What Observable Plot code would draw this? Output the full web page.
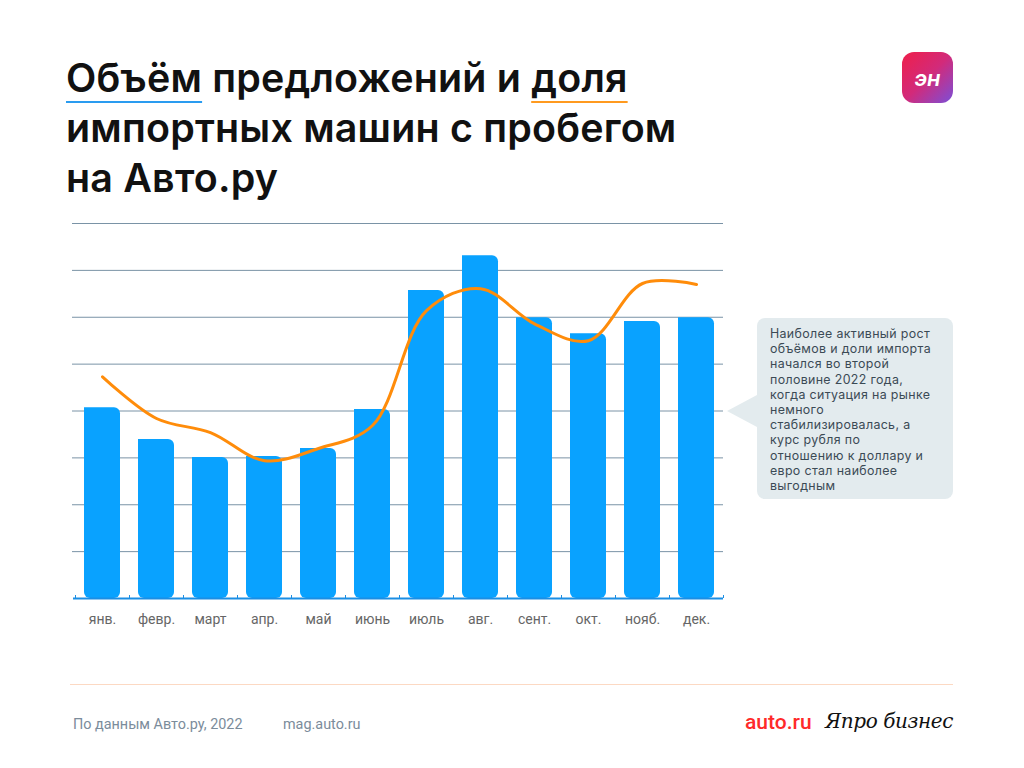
<!DOCTYPE html>
<html>
<head>
<meta charset="utf-8">
<script src="https://cdn.jsdelivr.net/npm/d3@7"></script>
<script src="https://cdn.jsdelivr.net/npm/@observablehq/plot@0.6"></script>
<style>
  html, body { margin:0; padding:0; background:#fff; }
  #page { position:relative; width:1024px; height:768px; overflow:hidden; background:#fff; font-family:"Inter","Noto Sans",sans-serif; }
  #title { position:absolute; left:66px; top:53px; font-family:"Inter",sans-serif; font-weight:600; font-size:39.4px; line-height:50px; color:#111; letter-spacing:0.2px; }
  .ub { text-decoration:underline; text-decoration-color:#2a9cf0; text-decoration-thickness:2px; text-underline-offset:9px; }
  .uo { text-decoration:underline; text-decoration-color:#ff9a1f; text-decoration-thickness:2px; text-underline-offset:9px; }
  #logo { position:absolute; left:902px; top:52px; width:51px; height:51px; border-radius:12px; background:linear-gradient(135deg,#ef1f4a 0%,#d22a7a 50%,#7b4fd8 100%); color:#fff; font:italic 600 22px "Inter",sans-serif; display:flex; align-items:center; justify-content:center; }
  #chart { position:absolute; left:0; top:200px; }
  #note { position:absolute; left:757px; top:318px; width:196px; height:181px; background:#e3ebee; border-radius:8px; box-sizing:border-box; padding:8px 0 0 13px; font-family:"Inter",sans-serif; font-size:12.4px; line-height:15.2px; letter-spacing:0.35px; color:#3b4a55; white-space:nowrap; }
  #tri { position:absolute; left:727px; top:395px; width:0; height:0; border-top:16px solid transparent; border-bottom:16px solid transparent; border-right:30px solid #e3ebee; }
  #rule { position:absolute; left:70px; top:684px; width:883px; height:1px; background:#fcd9c3; }
  .foot { position:absolute; top:716px; font-family:"Roboto",sans-serif; font-size:14.4px; color:#7b8c9b; }
  #autoru { position:absolute; left:745px; top:710px; font-family:"Roboto",sans-serif; font-weight:500; font-size:21px; color:#ff2a2a; }
  #pb { position:absolute; left:825px; top:709px; font-family:"DejaVu Serif",serif; font-style:italic; font-size:20px; color:#111; letter-spacing:-0.4px; }
</style>
</head>
<body>
<div id="page">
  <div id="title"><span class="ub">Объём</span> предложений и <span class="uo">доля</span><br>импортных машин с пробегом<br>на Авто.ру</div>
  <div id="logo">эн</div>
  <div id="chart"></div>
  <div id="tri"></div>
  <div id="note">Наиболее активный рост<br>объёмов и доли импорта<br>начался во второй<br>половине 2022 года,<br>когда ситуация на рынке<br>немного<br>стабилизировалась, а<br>курс рубля по<br>отношению к доллару и<br>евро стал наиболее<br>выгодным</div>
  <div id="rule"></div>
  <div class="foot" style="left:73px">По данным Авто.ру, 2022</div>
  <div class="foot" style="left:283px">mag.auto.ru</div>
  <div id="autoru">auto.ru</div>
  <div id="pb">Япро бизнес</div>
</div>
<script>
const months = ["янв.","февр.","март","апр.","май","июнь","июль","авг.","сент.","окт.","нояб.","дек."];
const volume = [40.7, 33.9, 30.1, 30.3, 32.0, 40.3, 65.7, 73.1, 59.9, 56.5, 59.1, 59.9];
const share  = [47.3, 38.4, 35.4, 29.4, 32.0, 36.9, 61.4, 66.1, 58.6, 55.0, 67.2, 67.0];
const gridTicks = [10, 20, 30, 40, 50, 60, 70, 80];

const rows = months.map((m, i) => ({month: m, volume: volume[i], share: share[i]}));

const chart = Plot.plot({
  width: 740,
  height: 440,
  marginLeft: 75,
  marginRight: 17,
  marginTop: 23,
  marginBottom: 42,
  style: {fontFamily: "Roboto, sans-serif", background: "transparent", overflow: "visible"},
  x: {domain: months, paddingInner: 1 / 3, paddingOuter: 1 / 6, label: null},
  y: {domain: [0, 80], axis: null},
  marks: [
    Plot.ruleY(gridTicks, {stroke: "#7a93a6", strokeWidth: 1, insetLeft: -3}),
    Plot.barY(rows, {x: "month", y: "volume", fill: "#09a2ff", ry2: 6, rx2: 6}),
    Plot.ruleY([0], {stroke: "#1b8ee4", strokeWidth: 2, insetLeft: -2}),
    Plot.ruleX(months, {x: d => d, y1: 0, y2: 0, dx: -27, insetTop: -3, stroke: "#1b8ee4", strokeWidth: 1}),
    Plot.ruleX(months.slice(-1), {x: d => d, y1: 0, y2: 0, dx: 27, insetTop: -3, stroke: "#1b8ee4", strokeWidth: 1}),
    Plot.lineY(rows, {x: "month", y: "share", stroke: "#ff8c0a", strokeWidth: 3, curve: "catmull-rom"}),
    Plot.axisX({tickSize: 0, tickPadding: 16, fontSize: 14, fill: "#666", label: null})
  ]
});
document.getElementById("chart").appendChild(chart);
</script>
</body>
</html>
